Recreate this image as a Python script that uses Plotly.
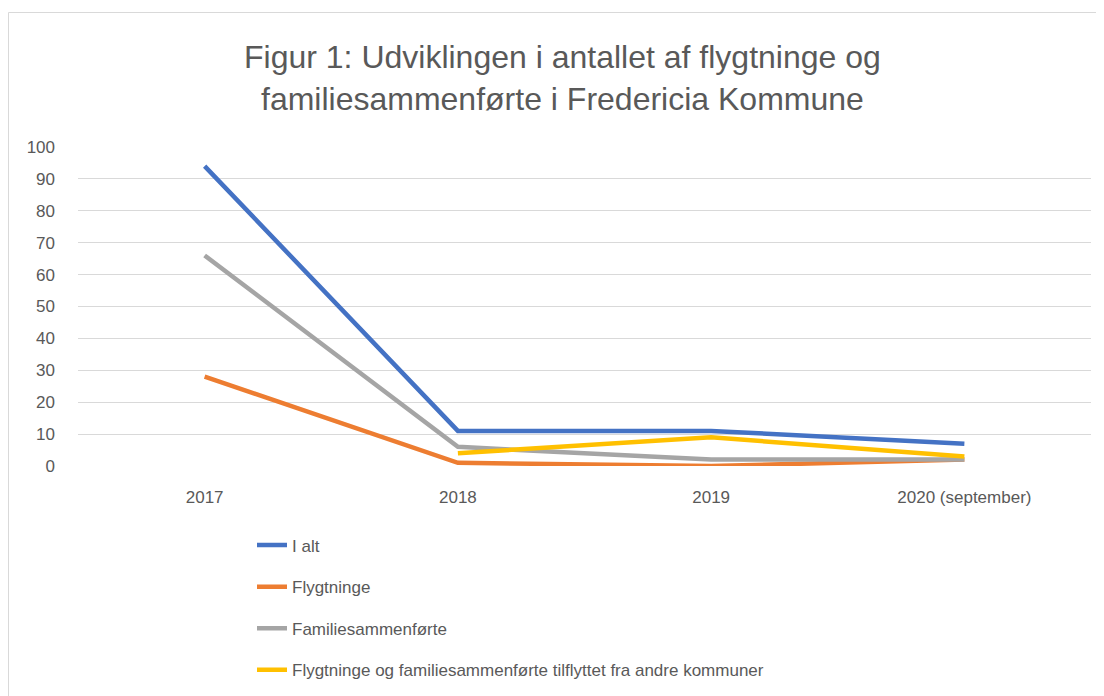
import plotly.graph_objects as go

categories = ["2017", "2018", "2019", "2020 (september)"]
i_alt = [94, 11, 11, 7]
flygtninge = [28, 1, 0, 2]
familiesammenforte = [66, 6, 2, 2]
tilflyttet = [None, 4, 9, 3]

series_names = [
    "I alt",
    "Flygtninge",
    "Familiesammenførte",
    "Flygtninge og familiesammenførte tilflyttet fra andre kommuner",
]
series_values = [i_alt, flygtninge, familiesammenforte, tilflyttet]
colors = ["#4472C4", "#ED7D31", "#A5A5A5", "#FFC000"]

title_text = "Figur 1: Udviklingen i antallet af flygtninge og<br>familiesammenførte i Fredericia Kommune"

FONT = "Liberation Sans, Arial, sans-serif"
TXT = "#595959"

fig = go.Figure()
for name, vals, col in zip(series_names, series_values, colors):
    fig.add_trace(go.Scatter(
        x=categories, y=vals, name=name, mode="lines",
        line=dict(color=col, width=4.5), cliponaxis=False,
        legendgroup=name,
    ))

# page offset (body margin) of 8px; work in screen pixels
OFF = 8
W, H = 1104, 696
# screen-pixel plot area
SL, SR, ST, SB = 78, 1091, 147, 466
L = SL - OFF
T = ST - OFF
R = W - (SR - OFF)
B = H - (SB - OFF)
pw, ph = SR - SL, SB - ST

def px_x(p):
    return (p - SL) / pw

def px_y(p):
    return (SB - p) / ph

fig.update_layout(
    width=W, height=H,
    margin=dict(l=L, r=R, t=T, b=B, autoexpand=False),
    paper_bgcolor="white", plot_bgcolor="white",
    font=dict(family=FONT, size=17, color=TXT),
    showlegend=True,
    legend=dict(
        x=px_x(252), y=px_y(527.5), xanchor="left", yanchor="top",
        font=dict(family=FONT, size=17, color=TXT),
        tracegroupgap=16.5, bgcolor="rgba(0,0,0,0)",
    ),
    xaxis=dict(
        type="category", range=[-0.5, 3.5], showgrid=False,
        showline=False, zeroline=False, ticks="",
        ticklabelstandoff=19,
        tickfont=dict(family=FONT, size=17, color=TXT),
    ),
    yaxis=dict(
        range=[0, 100], dtick=10, showgrid=True, gridcolor="#D9D9D9",
        gridwidth=1, zeroline=False, showline=False, ticks="",
        ticklabelstandoff=22,
        tickfont=dict(family=FONT, size=17, color=TXT),
    ),
    annotations=[dict(
        text=title_text, xref="paper", yref="paper",
        x=px_x(562), y=px_y(78), xanchor="center", yanchor="middle",
        showarrow=False, align="center",
        font=dict(family=FONT, size=32, color=TXT),
    )],
    shapes=[dict(
        type="rect", xref="paper", yref="paper",
        x0=px_x(8.5), x1=px_x(1120), y0=px_y(12.5), y1=px_y(720),
        line=dict(color="#D9D9D9", width=1), layer="below",
    )],
)

fig.write_html("out.html")
